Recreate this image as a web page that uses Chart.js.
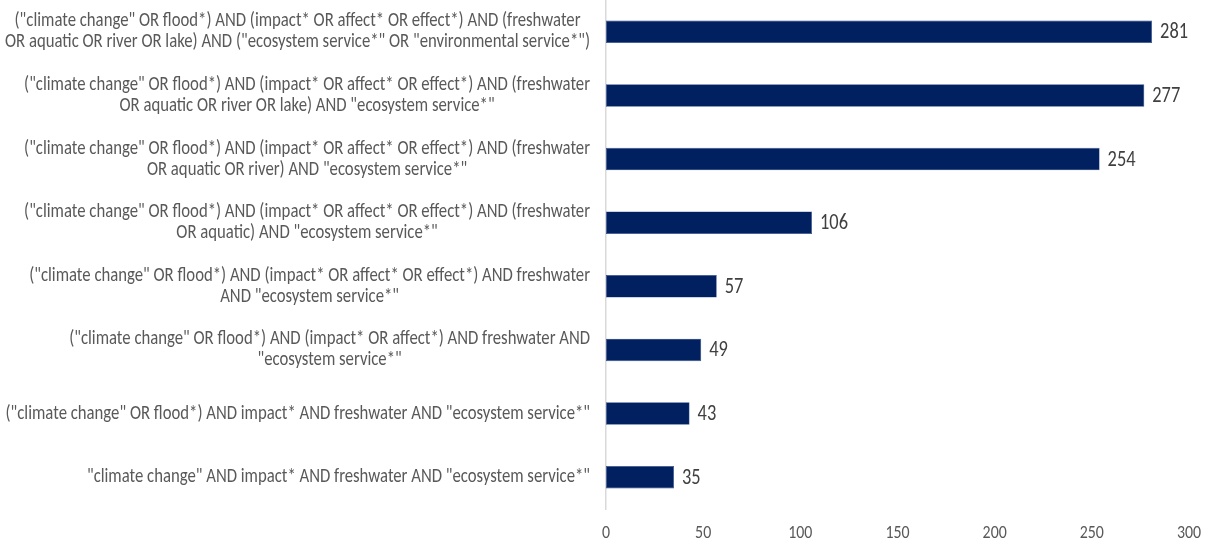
<!DOCTYPE html>
<html>
<head>
<meta charset="utf-8">
<title>Search strings and number of results</title>
<script src="https://cdn.jsdelivr.net/npm/chart.js@4"></script>
<style>
    html, body { margin: 0; padding: 0; background: #ffffff; }
    #wrap { width: 1210px; height: 545px; }
</style>
</head>
<body>
<div id="wrap"><canvas id="chart" width="1210" height="545"></canvas></div>
<script>
// Search strings, one entry per bar, already split into display lines.
const queries = [
    ['("climate change" OR flood*) AND (impact* OR affect* OR effect*) AND (freshwater',
        'OR aquatic OR river OR lake) AND ("ecosystem service*" OR "environmental service*")'],
    ['("climate change" OR flood*) AND (impact* OR affect* OR effect*) AND (freshwater',
        'OR aquatic OR river OR lake) AND "ecosystem service*"'],
    ['("climate change" OR flood*) AND (impact* OR affect* OR effect*) AND (freshwater',
        'OR aquatic OR river) AND "ecosystem service*"'],
    ['("climate change" OR flood*) AND (impact* OR affect* OR effect*) AND (freshwater',
        'OR aquatic) AND "ecosystem service*"'],
    ['("climate change" OR flood*) AND (impact* OR affect* OR effect*) AND freshwater',
        'AND "ecosystem service*"'],
    ['("climate change" OR flood*) AND (impact* OR affect*) AND freshwater AND',
        '"ecosystem service*"'],
    ['("climate change" OR flood*) AND impact* AND freshwater AND "ecosystem service*"'],
    ['"climate change" AND impact* AND freshwater AND "ecosystem service*"'],
];

const resultCounts = [281, 277, 254, 106, 57, 49, 43, 35];

const xTicks = [0, 50, 100, 150, 200, 250, 300];

const COLORS = {
    bar: '#002060',
    barEdge: '#2f4f8f',
    label: '#595959',
    value: '#404040',
    axis: '#d9d9d9',
};

const FONT_FAMILY = 'Carlito, "Liberation Sans", Arial, sans-serif';
const LABEL_FONT = `20px ${FONT_FAMILY}`;
const VALUE_FONT = `22px ${FONT_FAMILY}`;
const TICK_FONT = `19px ${FONT_FAMILY}`;
const LABEL_LINE = 21;
const LABEL_RIGHT = 590;
const LABEL_SPAN = 585; // room for the widest query line
const TICK_Y = 533;

// Horizontal squeeze so the longest query line fits left of the axis;
// every other text uses the same squeeze.
let squeeze = 1;

function fillSqueezed(ctx, text, x, y, align) {
    const w = ctx.measureText(text).width * squeeze;
    let left = x;
    if (align === 'center') {
        left = x - w / 2;
    } else if (align === 'right') {
        left = x - w;
    }
    ctx.save();
    ctx.translate(left, y);
    ctx.scale(squeeze, 1);
    ctx.textAlign = 'left';
    ctx.fillText(text, 0, 0);
    ctx.restore();
}

// Query lines are centred against each other, the block is right-aligned to the axis.
const queryLabels = {
    id: 'queryLabels',
    beforeDraw(chart) {
        const { ctx } = chart;
        ctx.save();
        ctx.font = LABEL_FONT;
        const widest = Math.max(...chart.data.labels.flat().map((l) => ctx.measureText(l).width));
        ctx.restore();
        squeeze = Math.min(1, LABEL_SPAN / widest);
    },
    afterDraw(chart) {
        const { ctx } = chart;
        const y = chart.scales.y;
        const x = chart.scales.x;
        ctx.save();
        ctx.font = LABEL_FONT;
        ctx.fillStyle = COLORS.label;
        ctx.textBaseline = 'middle';
        chart.data.labels.forEach((lines, i) => {
            const block = Math.max(...lines.map((l) => ctx.measureText(l).width)) * squeeze;
            const cx = LABEL_RIGHT - block / 2;
            const cy = y.getPixelForTick(i);
            const top = cy - ((lines.length - 1) * LABEL_LINE) / 2;
            lines.forEach((line, k) => fillSqueezed(ctx, line, cx, top + k * LABEL_LINE, 'center'));
        });

        // value axis tick labels
        ctx.font = TICK_FONT;
        xTicks.forEach((v) => {
            fillSqueezed(ctx, String(v), x.getPixelForValue(v), TICK_Y, 'center');
        });
        ctx.restore();
    },
};

// Count written just past the end of each bar.
const valueLabels = {
    id: 'valueLabels',
    afterDatasetsDraw(chart) {
        const { ctx } = chart;
        const meta = chart.getDatasetMeta(0);
        ctx.save();
        ctx.font = VALUE_FONT;
        ctx.fillStyle = COLORS.value;
        ctx.textBaseline = 'middle';
        meta.data.forEach((bar, i) => {
            fillSqueezed(ctx, String(chart.data.datasets[0].data[i]), bar.x + 8, bar.y + 1, 'left');
        });
        ctx.restore();
    },
};

new Chart(document.getElementById('chart'), {
    type: 'bar',
    data: {
        labels: queries,
        datasets: [{
            data: resultCounts,
            backgroundColor: COLORS.bar,
            borderColor: COLORS.barEdge,
            borderWidth: 0.6,
            borderSkipped: false,
            categoryPercentage: 1,
            barPercentage: 0.352,
        }],
    },
    plugins: [queryLabels, valueLabels],
    options: {
        responsive: false,
        animation: false,
        indexAxis: 'y',
        layout: { padding: { top: -2, right: 21, bottom: 0, left: 0 } },
        plugins: {
            legend: { display: false },
            tooltip: { enabled: false },
        },
        scales: {
            x: {
                min: 0,
                max: 300,
                afterFit(scale) {
                    scale.height = 36;
                },
                grid: { display: false, drawTicks: false },
                border: { display: false },
                ticks: { display: false },
            },
            y: {
                grid: { display: false, drawTicks: false },
                border: { display: true, color: COLORS.axis, width: 1.5 },
                ticks: { display: false },
                afterFit(scale) {
                    scale.width = 606;
                },
            },
        },
    },
});
</script>
</body>
</html>
